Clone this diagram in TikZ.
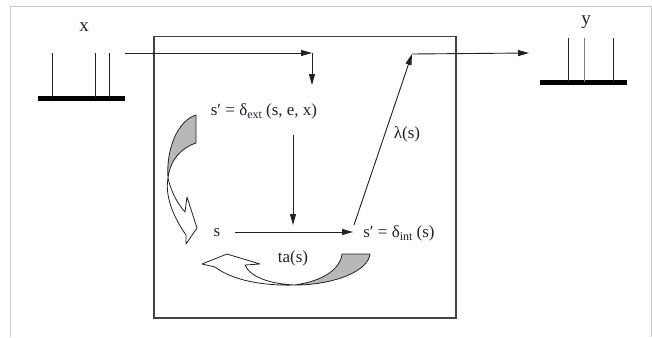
\documentclass[tikz,border=0pt]{standalone}
\usepackage{fontspec}
\setmainfont{Liberation Serif}
\usetikzlibrary{arrows.meta}
\definecolor{txt}{HTML}{22222C}
\definecolor{ln}{HTML}{222222}
\definecolor{frame}{HTML}{C8C8C8}
\definecolor{boxc}{HTML}{444444}
\definecolor{crescent}{HTML}{B8B8B8}
\newcommand\subx[1]{\raisebox{-0.4ex}{\fontsize{12}{12}\selectfont #1}}
\begin{document}
\begin{tikzpicture}[x=1pt,y=-1pt,
  every node/.style={inner sep=0pt, text=txt, font=\fontsize{17}{17}\selectfont},
  conn/.style={line width=0.9pt, draw=ln, -{Triangle[length=11pt,width=6pt]}},
  bar/.style={line width=5pt, draw=black},
  tick/.style={line width=1pt, draw=ln},
  ribbon/.style={line width=0.8pt, draw=ln, line join=round},
  biglabel/.style={font=\fontsize{19}{19}\selectfont}]
\useasboundingbox (0,0) rectangle (652,337);
\fill[white] (0,0) rectangle (652,337);
% outer frame
\draw[frame, line width=1pt] (10,337) -- (10,7) -- (651,7) -- (651,337);
% main box
\node[draw=boxc, line width=1.5pt, minimum width=302pt, minimum height=281pt, anchor=north west] (box) at (153,36) {};
% input
\node[biglabel] (xl) at (84,27) {x};
\draw[bar] (38,98) coordinate (inL) -- (125,98) coordinate (inR);
\draw[tick] (52,53) -- (52,98);
\draw[tick] (95,53) -- (95,98);
\draw[tick] (109,53) -- (109,98);
% output
\node[biglabel] (yl) at (586,22) {y};
\draw[bar] (540,82) coordinate (outL) -- (627,82) coordinate (outR);
\draw[tick] (568,38) -- (568,82);
\draw[line width=0.7pt, draw=ln!60] (584,38) -- (584,82);
\draw[tick] (613,38) -- (613,82);
% text nodes
\node (ext) at (264,111) {s′ = δ\subx{ext} (s, e, x)};
\node (s) at (217,233) {s};
\node (int) at (399,233) {s′ = δ\subx{int} (s)};
\node (ta) at (293,258) {ta(s)};
\node (lam) at (407,134) {λ(s)};
% coordinates
\coordinate (inStart) at (125,53);
\coordinate (corner) at (312,53);
\coordinate (extTop) at (312,85);
\coordinate (extBot) at (293,135);
\coordinate (sPt) at (293,225);
\coordinate (sR) at (235,232);
\coordinate (intL) at (353,232);
\coordinate (intTop) at (354,225);
\coordinate (lamTop) at (412,54);
\coordinate (outEnd) at (529,53);
% connectors
\draw[conn] (inStart) -- (corner);
\draw[conn] (corner) -- (extTop);
\draw[conn] (extBot) -- (sPt);
\draw[conn] (sR) -- (intL);
\draw[conn] (intTop) -- (lamTop);
\draw[conn] (lamTop) -- (outEnd);
% left ribbon arrow
\filldraw[ribbon, fill=crescent] (196,115) -- (196,143) .. controls (181,148) and (170,160) .. (168,178) .. controls (166,150) and (177,121) .. (196,115) -- cycle;
\filldraw[ribbon, fill=white] (168,178) .. controls (172,195) and (179,205) .. (185,212) -- (187,197) -- (197,228) -- (186,244) -- (186,235) .. controls (172,215) and (165,195) .. (168,178) -- cycle;
% bottom ribbon arrow
\filldraw[ribbon, fill=crescent] (342,254) -- (370,254) .. controls (368,272) and (332,285) .. (295,285) .. controls (322,281) and (340,270) .. (342,254) -- cycle;
\filldraw[ribbon, fill=white] (295,285) .. controls (270,284) and (250,277) .. (245,265) -- (260,264) -- (227,254) -- (202,264) -- (215,267) .. controls (232,280) and (262,286) .. (295,285) -- cycle;
\end{tikzpicture}
\end{document}
